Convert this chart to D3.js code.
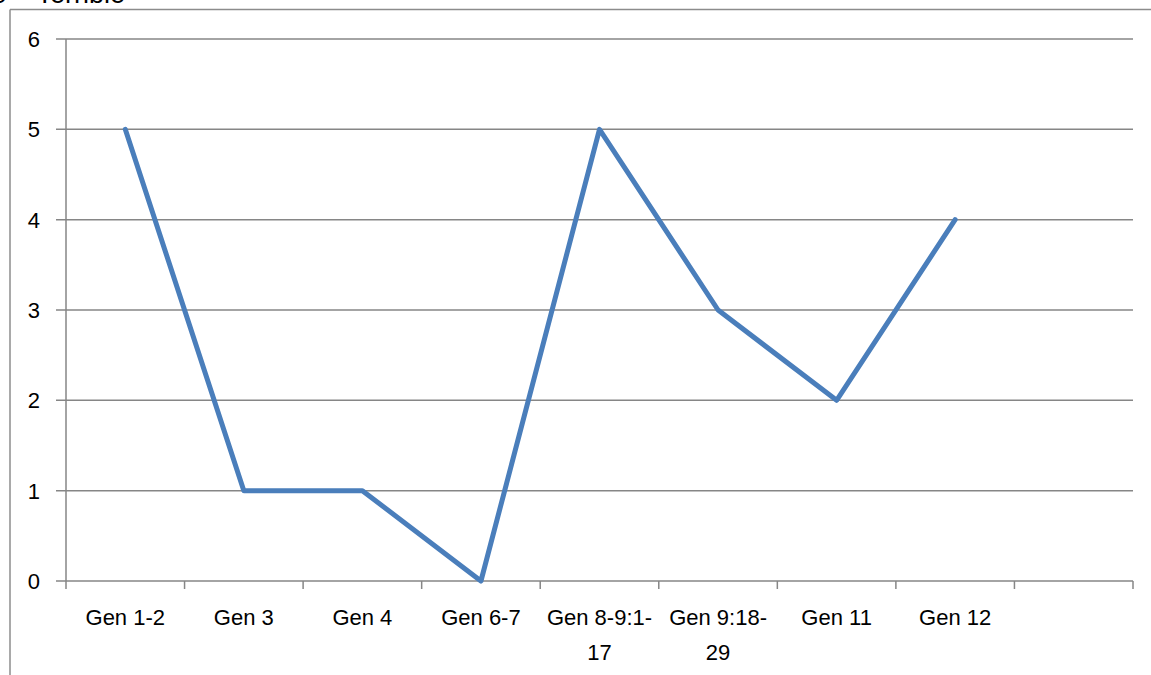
<!DOCTYPE html>
<html>
<head>
<meta charset="utf-8">
<script src="https://cdn.jsdelivr.net/npm/d3@7"></script>
<style>
  body { margin: 0; background: #fff; }
  svg { display: block; font-family: "Liberation Sans", Arial, sans-serif; }
</style>
</head>
<body>
<div class="chart"></div>
<script>
// categories (the last slot is empty in the original)
var categories = ["Gen 1-2", "Gen 3", "Gen 4", "Gen 6-7", "Gen 8-9:1-17", "Gen 9:18-29", "Gen 11", "Gen 12", ""];
var labelLines = [["Gen 1-2"], ["Gen 3"], ["Gen 4"], ["Gen 6-7"], ["Gen 8-9:1-", "17"], ["Gen 9:18-", "29"], ["Gen 11"], ["Gen 12"], [""]];
var values = [5, 1, 1, 0, 5, 3, 2, 4];
var yTicks = [0, 1, 2, 3, 4, 5, 6];

var width = 1151, height = 675;
var margin = { top: 39, right: 18, bottom: 94, left: 66 };

const svg = d3.select(".chart")
  .append("svg")
  .attr("width", width)
  .attr("height", height);

// outer frame of the chart area (cut off at the window edge)
svg.append("line")
  .attr("x1", 10).attr("x2", width).attr("y1", 9.5).attr("y2", 9.5)
  .attr("stroke", "#8c8c8c").attr("stroke-width", 1.5);
svg.append("line")
  .attr("x1", 10).attr("x2", 10).attr("y1", 9.5).attr("y2", height)
  .attr("stroke", "#8c8c8c").attr("stroke-width", 1.5);

// title text, mostly above the visible area
svg.append("text")
  .attr("x", -8).attr("y", 3)
  .attr("font-size", 27)
  .attr("fill", "#000")
  .text("0 \u2013 Terrible");

var x = d3.scaleBand()
  .domain(categories)
  .range([margin.left, width - margin.right])
  .padding(0);

var y = d3.scaleLinear()
  .domain([0, 6])
  .range([height - margin.bottom, margin.top]);

//gridlines
svg.append("g")
  .selectAll("line")
  .data(yTicks)
  .enter()
  .append("line")
  .attr("x1", margin.left - 10)
  .attr("x2", width - margin.right)
  .attr("y1", (d) => y(d))
  .attr("y2", (d) => y(d))
  .attr("stroke", "#868686")
  .attr("stroke-width", 1.5);

// y axis line + labels
svg.append("line")
  .attr("x1", margin.left).attr("x2", margin.left)
  .attr("y1", y(6)).attr("y2", y(0))
  .attr("stroke", "#868686").attr("stroke-width", 1.5);

svg.append("g")
  .selectAll("text")
  .data(yTicks)
  .enter()
  .append("text")
  .attr("x", margin.left - 26)
  .attr("y", (d) => y(d))
  .attr("dy", "0.36em")
  .attr("text-anchor", "end")
  .attr("font-size", 22)
  .text((d) => d);

// x axis ticks at band edges
var edges = categories.map((c) => x(c)).concat([x(categories[categories.length - 1]) + x.bandwidth()]);
svg.append("g")
  .selectAll("line")
  .data(edges)
  .enter()
  .append("line")
  .attr("x1", (d) => d).attr("x2", (d) => d)
  .attr("y1", y(0)).attr("y2", y(0) + 8)
  .attr("stroke", "#868686").attr("stroke-width", 1.5);

// x labels (wrapped like the original)
var xl = svg.append("g")
  .selectAll("text")
  .data(categories)
  .enter()
  .append("text")
  .attr("text-anchor", "middle")
  .attr("font-size", 22)
  .attr("y", y(0) + 44);

xl.selectAll("tspan")
  .data((d, i) => labelLines[i].map((t) => ({ t: t, c: d })))
  .enter()
  .append("tspan")
  .attr("x", (d) => x(d.c) + x.bandwidth() / 2)
  .attr("dy", (d, i) => (i === 0 ? 0 : 35))
  .text((d) => d.t);

// the series line
var line = d3.line()
  .x((d, i) => x(categories[i]) + x.bandwidth() / 2)
  .y((d) => y(d));

svg.append("path")
  .datum(values)
  .attr("d", line)
  .attr("fill", "none")
  .attr("stroke", "#4a7ebb")
  .attr("stroke-width", 5)
  .attr("stroke-linejoin", "round")
  .attr("stroke-linecap", "round");
</script>
</body>
</html>
